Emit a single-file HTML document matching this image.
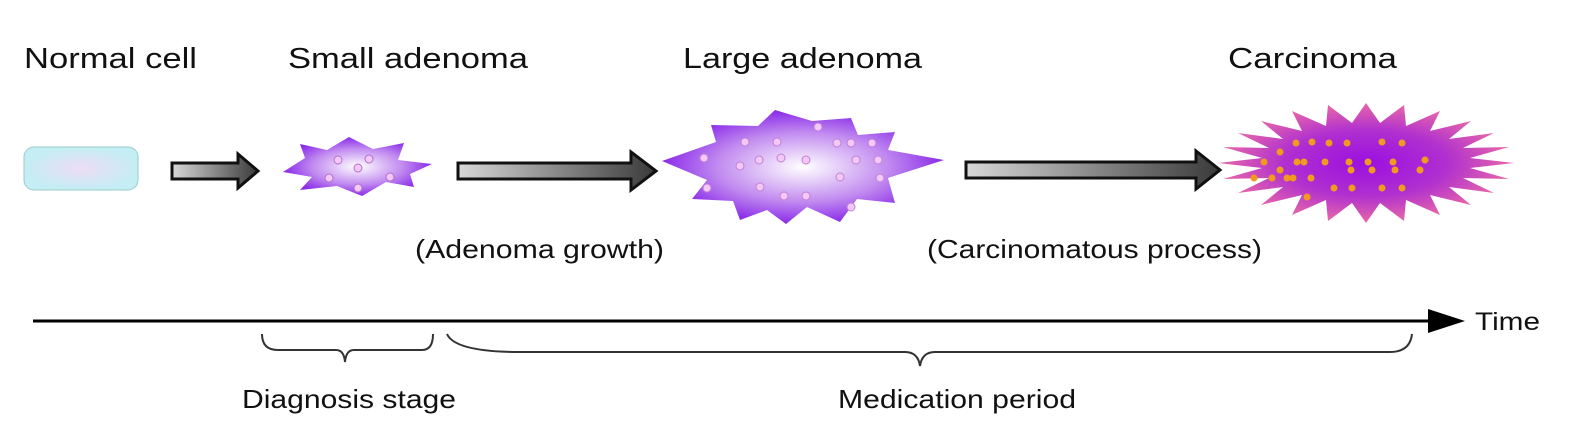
<!DOCTYPE html>
<html><head><meta charset="utf-8"><style>
body{margin:0;background:#fff}
svg{display:block}
text{font-family:"Liberation Sans",Arial,sans-serif;fill:#111}
</style></head><body>
<svg width="1596" height="448" viewBox="0 0 1596 448" xmlns="http://www.w3.org/2000/svg">
<defs>
<linearGradient id="ag" x1="0" x2="1" y1="0" y2="0"><stop offset="0" stop-color="#d8d8d8"/><stop offset="1" stop-color="#3a3a3a"/></linearGradient>
<radialGradient id="nc"><stop offset="0" stop-color="#eedcf5"/><stop offset="1" stop-color="#c4eef3"/></radialGradient>
<radialGradient id="sa"><stop offset="0" stop-color="#ffffff"/><stop offset="0.6" stop-color="#c28cf0"/><stop offset="1" stop-color="#8a2be8"/></radialGradient>
<radialGradient id="ca"><stop offset="0" stop-color="#9a10e0"/><stop offset="0.55" stop-color="#b030d0"/><stop offset="1" stop-color="#e868a8"/></radialGradient>
</defs>
<text x="24" y="68" font-size="29" textLength="173" lengthAdjust="spacingAndGlyphs">Normal cell</text>
<text x="288" y="68" font-size="29" textLength="240" lengthAdjust="spacingAndGlyphs">Small adenoma</text>
<text x="683" y="68" font-size="29" textLength="239" lengthAdjust="spacingAndGlyphs">Large adenoma</text>
<text x="1228" y="68" font-size="29" textLength="169" lengthAdjust="spacingAndGlyphs">Carcinoma</text>

<rect x="24" y="147" width="114" height="43" rx="10" fill="url(#nc)" stroke="#9cc" stroke-width="1"/>

<g stroke="#111" stroke-width="3" fill="url(#ag)">
<path d="M172,163 H238 V154 L258,171 L238,188 V179 H172 Z"/>
<path d="M458,163 H631 V152 L656,171 L631,190 V179 H458 Z"/>
<path d="M966,162 H1196 V151 L1220,170 L1196,189 V178 H966 Z"/>
</g>

<path d="M283,172 L305,158 L300,144 L327,150 L349,137 L373,149 L404,143 L398,160 L432,164 L410,174 L414,187 L386,182 L362,196 L337,186 L300,190 L312,177 Z" fill="url(#sa)"/>
<g fill="#f3c8f5" stroke="#b070d0" stroke-width="1">
<circle cx="338" cy="160" r="4"/><circle cx="369" cy="159" r="4"/><circle cx="358" cy="168" r="4"/>
<circle cx="329" cy="178" r="4"/><circle cx="390" cy="177" r="4"/><circle cx="358" cy="188" r="4"/>
</g>

<path d="M662,161 L716,142 L711,125 L758,126 L775,110 L812,121 L851,118 L858,135 L895,132 L888,150 L944,160 L888,178 L895,203 L857,199 L840,222 L807,207 L786,224 L767,210 L740,220 L733,201 L692,199 L707,180 Z" fill="url(#sa)"/>
<g fill="#f3c8f5" stroke="#c080d8" stroke-width="1">
<circle cx="818" cy="127" r="4"/><circle cx="745" cy="142" r="4"/><circle cx="777" cy="142" r="4"/><circle cx="837" cy="143" r="4"/><circle cx="851" cy="143" r="4"/><circle cx="872" cy="143" r="4"/>
<circle cx="704" cy="158" r="4"/><circle cx="759" cy="160" r="4"/><circle cx="781" cy="158" r="4"/><circle cx="806" cy="160" r="4"/><circle cx="856" cy="160" r="4"/><circle cx="878" cy="160" r="4"/>
<circle cx="740" cy="166" r="4"/><circle cx="840" cy="177" r="4"/><circle cx="880" cy="178" r="4"/>
<circle cx="707" cy="188" r="4"/><circle cx="760" cy="187" r="4"/><circle cx="784" cy="196" r="4"/><circle cx="806" cy="196" r="4"/><circle cx="851" cy="207" r="4"/>
</g>

<polygon fill="url(#ca)" points="1514,163 1470,168 1509,179 1463,178 1494,193 1449,187 1471,205 1430,195 1440,215 1406,200 1404,221 1380,203 1366,223 1352,203 1328,221 1326,200 1292,215 1302,195 1261,205 1283,187 1238,193 1269,178 1223,179 1262,168 1218,163 1262,158 1223,147 1269,148 1238,133 1283,139 1261,121 1302,131 1292,111 1326,126 1328,105 1352,123 1366,103 1380,123 1404,105 1406,126 1440,111 1430,131 1471,121 1449,139 1494,133 1463,148 1509,147 1470,158"/>
<g fill="#f29a20">
<circle cx="1296" cy="143" r="3.5"/><circle cx="1312" cy="142" r="3.5"/><circle cx="1329" cy="143" r="3.5"/><circle cx="1347" cy="143" r="3.5"/><circle cx="1382" cy="142" r="3.5"/><circle cx="1402" cy="143" r="3.5"/>
<circle cx="1280" cy="152" r="3.5"/><circle cx="1264" cy="162" r="3.5"/><circle cx="1297" cy="162" r="3.5"/><circle cx="1304" cy="162" r="3.5"/><circle cx="1325" cy="162" r="3.5"/><circle cx="1349" cy="162" r="3.5"/><circle cx="1368" cy="162" r="3.5"/><circle cx="1393" cy="162" r="3.5"/>
<circle cx="1280" cy="170" r="3.5"/><circle cx="1351" cy="170" r="3.5"/><circle cx="1372" cy="170" r="3.5"/><circle cx="1395" cy="170" r="3.5"/><circle cx="1420" cy="170" r="3.5"/><circle cx="1425" cy="160" r="3.5"/>
<circle cx="1254" cy="178" r="3.5"/><circle cx="1272" cy="178" r="3.5"/><circle cx="1287" cy="178" r="3.5"/><circle cx="1293" cy="178" r="3.5"/><circle cx="1311" cy="178" r="3.5"/>
<circle cx="1334" cy="188" r="3.5"/><circle cx="1352" cy="188" r="3.5"/><circle cx="1382" cy="188" r="3.5"/><circle cx="1402" cy="188" r="3.5"/><circle cx="1307" cy="197" r="3.5"/>
</g>

<text x="415" y="258" font-size="26" textLength="249" lengthAdjust="spacingAndGlyphs">(Adenoma growth)</text>
<text x="927" y="258" font-size="26" textLength="335" lengthAdjust="spacingAndGlyphs">(Carcinomatous process)</text>

<line x1="33" y1="321" x2="1432" y2="321" stroke="#000" stroke-width="3"/>
<path d="M1428,309 L1465,321 L1428,333 Z" fill="#000"/>
<text x="1475" y="330" font-size="25" textLength="65" lengthAdjust="spacingAndGlyphs">Time</text>

<g fill="none" stroke="#333" stroke-width="2">
<path d="M262,334 Q262,350 278,350 H336 Q344,350 345,362 Q346,350 354,350 H422 Q433,350 433,334"/>
<path d="M447,334 Q455,352 520,352 H905 Q918,352 920,366 Q922,352 935,352 H1390 Q1410,352 1412,334"/>
</g>
<text x="242" y="408" font-size="26" textLength="214" lengthAdjust="spacingAndGlyphs">Diagnosis stage</text>
<text x="838" y="408" font-size="26" textLength="238" lengthAdjust="spacingAndGlyphs">Medication period</text>
</svg>
</body></html>
